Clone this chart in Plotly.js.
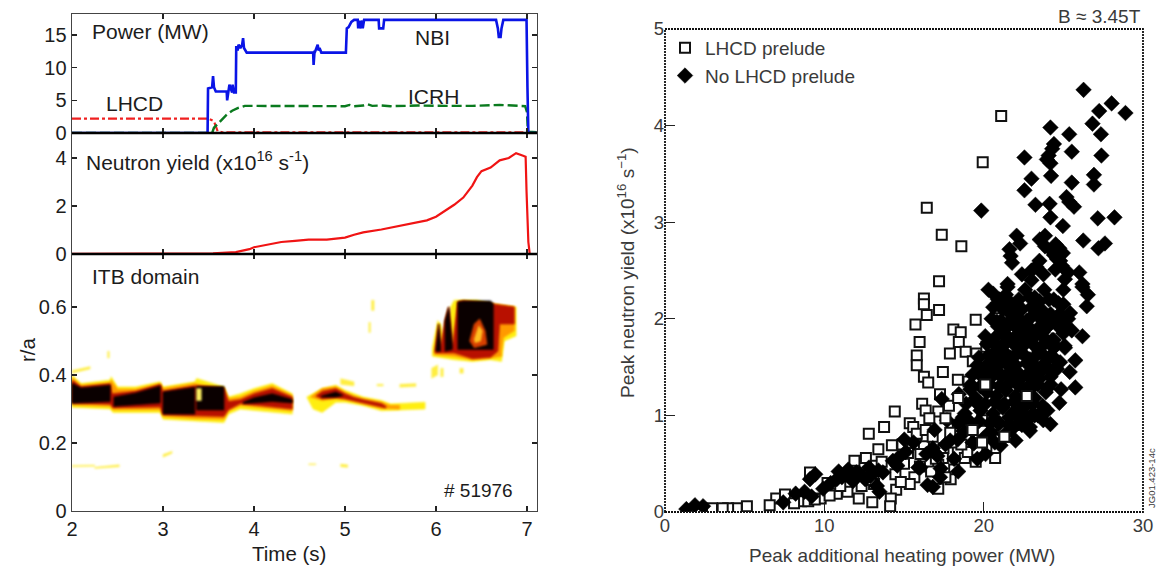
<!DOCTYPE html>
<html><head><meta charset="utf-8">
<script src="https://cdn.plot.ly/plotly-3.0.1.min.js"></script>
<style>html,body{margin:0;padding:0;background:#fff}</style></head><body><div id="c" style="width:1159px;height:569px"></div>
<script>
const nbiT=[2,3.49,3.495,3.54,3.55,3.56,3.58,3.7,3.705,3.72,3.73,3.76,3.765,3.78,3.79,3.8,3.805,3.82,3.83,3.85,3.87,3.88,3.89,3.92,4.65,4.655,4.665,4.67,4.7,4.71,4.72,4.74,5.01,5.02,5.04,5.07,5.1,5.14,5.145,5.16,5.165,5.19,5.195,5.21,5.37,5.375,5.42,5.43,6.66,6.68,6.69,6.71,6.72,6.74,6.995,7,7.005,7.015,7.11];
const nbiP=[0,0,6.8,7,8.7,7,6.35,6.35,5,6.2,7.4,6.2,7.4,6.2,6.2,6.2,13.3,12.6,13.5,13,13.5,14.5,13,12.3,12.3,10.4,12.4,12.4,13.5,12.6,13,12.3,12.3,16,16.2,17,17.3,17.3,16,17.2,16,17.2,16,17.3,17.3,16,16,17.3,17.3,16,14.7,14.7,16,17.3,17.3,14.5,7,0,0];
const icrhT=[2,3.54,3.56,3.62,3.7,3.76,3.82,3.9,4.2,4.5,4.8,5.0,5.05,5.1,5.2,5.25,5.3,5.4,5.5,5.8,6.1,6.4,6.7,6.98,7.0,7.01,7.11];
const icrhP=[0,0,0.8,1.7,2.8,3.4,3.8,4.15,4.15,4.1,4.1,4.1,4.3,4.1,4.2,4.4,4.15,4.2,4.1,4.2,4.15,4.15,4.3,4.1,3.2,0.2,0.1];
const lhcdT=[2,2.8,2.95,3,3.5,3.56,3.6,3.65,7.11];
const lhcdP=[2.2,2.2,2.3,2.2,2.2,1.8,0.3,0.1,0.1];
const neutT=[2,3.4,3.55,3.8,3.95,4.0,4.1,4.3,4.45,4.6,4.8,5.0,5.1,5.2,5.4,5.6,5.8,5.9,6.0,6.1,6.2,6.3,6.4,6.45,6.5,6.6,6.7,6.8,6.88,6.95,6.985,6.995,7.015,7.03,7.11];
const neutY=[0.01,0.01,0.03,0.08,0.2,0.28,0.36,0.5,0.55,0.6,0.6,0.68,0.8,0.9,1.02,1.17,1.3,1.4,1.55,1.8,2.05,2.35,2.85,3.2,3.45,3.6,3.9,4.0,4.2,4.1,4.05,2.6,0.5,0,0];

const itbYellowT=[2,2.1,2.42,2.43,2.5,2.7,2.97,3,3.35,3.37,3.67,3.72,3.85,4,4.2,4.42,4.42,3.85,3.72,3.67,3.35,3,2.97,2.45,2.42,2,2,null,
 4.58,4.65,4.75,4.9,5,5.2,5.4,5.5,5.88,5.88,5.5,5.4,5.2,5,4.9,4.75,4.65,4.58,4.58,null,
 5.96,6.02,6.05,6.12,6.16,6.2,6.45,6.6,6.88,6.88,6.75,6.72,6.6,6.4,6.2,5.96,5.96];
const itbYellowR=[0.4,0.375,0.385,0.395,0.365,0.365,0.38,0.365,0.38,0.39,0.365,0.335,0.345,0.36,0.375,0.345,0.285,0.3,0.285,0.26,0.265,0.27,0.29,0.29,0.3,0.305,0.4,null,
 0.335,0.345,0.36,0.37,0.355,0.335,0.325,0.315,0.32,0.3,0.295,0.295,0.31,0.32,0.32,0.29,0.3,0.335,0.335,null,
 0.48,0.56,0.55,0.48,0.6,0.62,0.62,0.61,0.6,0.515,0.5,0.44,0.445,0.44,0.445,0.455,0.48];
const itbOrangeT=[2,2.1,2.42,2.43,2.5,2.7,2.97,3,3.35,3.67,3.72,3.85,4,4.2,4.42,4.42,3.85,3.72,3.67,3.35,3,2.97,2.45,2.42,2,2,null,
 4.62,4.75,4.9,5,5.1,5.2,5.4,5.5,5.6,5.6,5.4,5.2,5,4.9,4.75,4.62,4.62,null,
 5.98,6.03,6.05,6.1,6.14,6.18,6.24,6.3,6.6,6.86,6.86,6.74,6.72,6.72,6.6,6.4,6.2,5.98,5.98];
const itbOrangeR=[0.392,0.37,0.378,0.385,0.358,0.358,0.375,0.36,0.375,0.36,0.33,0.335,0.352,0.368,0.34,0.295,0.31,0.295,0.27,0.272,0.278,0.298,0.298,0.308,0.312,0.392,null,
 0.335,0.36,0.365,0.35,0.338,0.33,0.32,0.31,0.31,0.3,0.302,0.316,0.328,0.33,0.325,0.335,0.335,null,
 0.47,0.55,0.48,0.56,0.6,0.48,0.615,0.618,0.61,0.6,0.53,0.51,0.47,0.455,0.45,0.445,0.455,0.46,0.47];
const itbRedT=[2,2.1,2.42,2.44,2.7,2.97,3,3.35,3.67,3.72,3.85,4,4.2,4.42,4.42,3.85,3.72,3.67,3.35,3,2.97,2.45,2.42,2,2,null,
 4.68,4.75,4.9,5,5.1,5.2,5.4,5.45,5.45,5.4,5.2,5,4.9,4.75,4.68,4.68,null,
 5.99,6.03,6.05,6.1,6.14,6.18,6.24,6.3,6.6,6.86,6.86,6.7,6.68,6.6,6.4,6.2,5.99,5.99];
const itbRedR=[0.385,0.365,0.374,0.345,0.352,0.372,0.352,0.368,0.362,0.322,0.327,0.345,0.36,0.335,0.3,0.316,0.298,0.278,0.28,0.284,0.306,0.304,0.314,0.318,0.385,null,
 0.338,0.352,0.36,0.345,0.334,0.327,0.316,0.308,0.303,0.306,0.32,0.33,0.334,0.33,0.338,0.338,null,
 0.47,0.55,0.48,0.56,0.6,0.48,0.615,0.618,0.61,0.6,0.55,0.55,0.47,0.452,0.448,0.465,0.465,0.47];
const itbBlackT=[2,2.1,2.42,2.42,2,2,null,2.46,2.7,2.97,2.97,2.46,2.46,null,3,3.35,3.35,3,3,null,3.37,3.67,3.67,3.37,3.37,null,
 3.88,4,4.2,4.42,4.42,4.2,4,3.88,3.88,null,4.74,4.9,4.98,4.9,4.74,4.74,null,
 6.0,6.03,6.05,6.05,6.0,6.0,null,6.1,6.14,6.18,6.18,6.1,6.1,null,6.24,6.3,6.6,6.63,6.63,6.24,6.24];
const itbBlackR=[0.376,0.362,0.37,0.322,0.317,0.376,null,0.335,0.347,0.368,0.318,0.308,0.335,null,0.35,0.364,0.285,0.285,0.35,null,0.366,0.366,0.297,0.297,0.366,null,
 0.32,0.333,0.345,0.328,0.318,0.322,0.318,0.316,0.32,null,0.338,0.35,0.34,0.335,0.335,0.338,null,
 0.475,0.55,0.49,0.47,0.47,0.475,null,0.56,0.6,0.49,0.475,0.47,0.56,null,0.615,0.618,0.618,0.61,0.475,0.475,0.615];
const itbHoleT=[6.37,6.42,6.48,6.54,6.56,6.5,6.42,6.37];
const itbHoleR=[0.5,0.55,0.565,0.53,0.49,0.485,0.48,0.5];
const itbHoleInnerT=[6.42,6.47,6.51,6.49,6.43,6.42];
const itbHoleInnerR=[0.505,0.545,0.53,0.5,0.495,0.505];
const itbSpotT=[3.37,3.42,3.42,3.37,3.37];
const itbSpotR=[0.325,0.325,0.36,0.36,0.325];
const itbSpeckT=[2,2.25,2.25,2,2,null,2.25,2.52,2.52,2.25,2.25,null,3,3.1,3.1,3,3,null,2.39,2.41,2.41,2.39,null,
 5.26,5.28,5.28,5.26,null,5.29,5.32,5.32,5.29,null,5.95,6.02,6.02,5.95,null,6.05,6.08,6.08,6.05,null,6.26,6.3,6.3,6.26,null,
 5.35,5.42,5.42,5.35,null,5.6,5.78,5.78,5.6,null,4.95,5.1,5.1,4.95,null,2,2.2,2.2,2,null,4.6,4.68,4.68,4.6,null,4.95,5.03,5.03,4.95];
const itbSpeckR=[0.13,0.132,0.135,0.134,0.13,null,0.125,0.13,0.136,0.129,0.125,null,0.158,0.17,0.176,0.166,0.158,null,0.45,0.45,0.47,0.47,null,
 0.525,0.525,0.555,0.555,null,0.59,0.59,0.62,0.62,null,0.39,0.4,0.43,0.42,null,0.395,0.395,0.42,0.42,null,0.405,0.405,0.42,0.42,null,
 0.368,0.368,0.373,0.373,null,0.364,0.366,0.375,0.373,null,0.372,0.368,0.38,0.39,null,0.405,0.418,0.425,0.413,null,0.136,0.136,0.139,0.139,null,0.13,0.128,0.136,0.138];

const lhcdPower=[21.1,19.94,16.43,17.37,18.6,17.2,16.25,16.25,17.2,16.43,15.72,19.5,20.77,18.1,18.56,18.44,15.98,15.8,15.8,17.88,18.87,19.54,19.32,20.17,17.44,16.25,16.52,18.38,19.05,17.26,16.14,17.82,16.36,17.15,14.42,13.75,12.79,15.36,15.58,16.59,15.8,16.36,18.38,19.38,19.94,21.28,13.39,14.24,15.76,16.25,17.48,18.38,20.17,20.72,19.5,18.82,17.44,16.03,15.25,12.61,11.89,13.24,14.46,18.15,17.15,15.65,15.36,17.93,17.15,14.51,13.12,12.34,12.16,13.01,14.17,14.13,10.78,9.77,9.1,8.54,6.98,6.57,7.53,5.14,4.5,3.96,3.62,2.95,11.45,10.33,8.99,12.34,16.8,17.9,18.9,15,14.9,16.7,19,18.2,17.6,19.6,20.4,11,9.4,8.1,10.2,12.9,13.6,14.8,16,17,18.6,19.9,20.6];
const lhcdYield=[4.1,3.62,3.15,2.87,2.75,2.39,2.21,2.15,2.09,2.04,1.94,1.99,2.11,1.89,1.86,1.76,1.76,1.62,1.52,1.64,1.66,1.64,1.56,1.71,1.45,1.4,1.34,1.37,1.35,1.22,1.12,1.1,1.05,1.04,1.04,0.88,0.81,0.92,0.88,0.97,0.81,0.85,0.89,0.87,0.84,0.78,0.65,0.69,0.7,0.68,0.66,0.63,0.68,0.56,0.52,0.56,0.56,0.6,0.61,0.56,0.53,0.48,0.39,0.44,0.49,0.36,0.29,0.34,0.24,0.23,0.29,0.27,0.14,0.1,0.14,0.06,0.19,0.14,0.41,0.11,0.14,0.07,0.18,0.06,0.04,0.04,0.04,0.04,0.21,0.17,0.11,0.38,0.78,0.82,0.76,0.5,0.7,0.42,0.62,0.72,0.36,0.64,0.78,0.27,0.13,0.09,0.3,0.33,0.52,0.31,0.47,0.55,0.7,0.95,0.9];
const noLhcdPower=[26.27,28.03,28.9,27.25,26.83,27.36,24.19,25.37,24.41,24.3,24.08,25.53,27.39,22.56,23.97,24.19,23,24.23,26.92,26.92,25.53,22.56,23.25,24.14,25.2,25.37,25.67,19.85,24.19,27.16,28.21,24.97,22.07,22.29,26.25,27.61,27.2,23.85,23.52,23.85,24.52,24.75,24.97,24.41,21.62,21.69,21.78,22.4,23.3,23.75,24.5,25.1,26,26.2,21.5,25.3,24.6,23,23.5,24.9,
 1.34,1.88,2.39,7.42,8.2,8.76,9.2,9.43,9.1,9.93,10.78,11.45,12,12.56,13.46,13.68,14.58,15.02,14.64,16.03,16.48,16.81,17.26,16.81,16.92,17.7,18.15,17.37,18.44,18.38,19.38,20.12,21.06,21.73,24.19,23.74,22.4,24.75,25.75,24.86,24.19,24.52,25.75,26.47,26.54,26.2,25.42,26.2,25.53,24.86,25.08,20.6,21.5,20.83,21.28,20.72,20.05,19.16,18.82,10.4,11.1,11.8,12.9,13.3,14.3,15.1,17.1,17.9,18.8,
 20.3,20.9,21.4,22,22.6,23.2,23.8,24.4,25,22.1,22.7,23.4,24,24.6,21.3,21.9,22.5,23.1,23.7,24.3,25,20.5,21.1,21.7,22.3,22.9,23.5,24.1,24.8,19.9,20.5,21.1,21.7,22.3,22.9,23.5,24.2,19.5,20.2,20.8,21.4,22,22.6,23.2,23.9,19.8,20.6,21.2,21.8,22.5,23.1,22.2,22.8,23.4,24,21.6,22.4,23.1,20.9,20.2,22.9,21.2,22,23.6,24.4,25.4,22.6,23.9,21.5,22.3,23,
 20.6,21.2,21.8,22.4,23,23.6,24.2,24.8,25.3,20.9,21.5,22.1,22.8,23.4,24,24.7,20.2,20.8,21.4,22,22.6,23.2,23.8,24.5,25.1,19.6,20.2,20.8,21.4,22,22.7,23.3,24,24.6,19.2,19.8,20.4,21,21.6,22.2,22.8,23.4,24,18.9,19.5,20.1,20.7,21.3,21.9,22.5,23.1,23.7,18.4,19.1,19.7,20.4,21,21.6,22.2,22.9,19.3,20,20.7,21.3,22,10.9,11.5,12.2,12.8,13.4,15.6,16.4,17.3,18.4,19.6,20.5,16.9,15.9,17.6,18.7,
 21,21.6,22.2,22.9,23.5,24.1,24.7,20.5,21.1,21.8,22.4,23,23.7,24.4,25,20.1,20.7,21.3,21.9,22.5,23.1,23.8,24.4,19.7,20.3,20.9,21.5,22.1,22.7,23.3,23.9,24.5,19.3,19.9,20.5,21.1,21.7,22.3,22.9,23.5,22,22.6,23.2,24.3,24.8,25];
const noLhcdYield=[4.37,4.23,4.13,4.15,4.02,3.91,3.98,3.91,3.81,3.76,3.69,3.73,3.69,3.67,3.65,3.61,3.45,3.48,3.49,3.39,3.41,3.33,3.18,3.19,3.26,3.21,3.16,3.12,3.05,3.04,3.05,2.96,2.86,2.78,2.81,2.78,2.73,2.86,2.82,2.75,2.77,2.73,2.68,2.66,2.72,2.65,2.58,2.46,2.54,2.46,2.51,2.41,2.48,2.36,2.36,2.48,2.62,2.5,2.6,2.55,
 0.03,0.07,0.06,0.1,0.19,0.21,0.16,0.39,0.34,0.24,0.34,0.38,0.41,0.34,0.21,0.41,0.48,0.75,0.56,0.46,0.28,0.26,0.36,0.66,0.85,0.95,0.55,1.17,1.22,0.75,0.71,0.6,0.69,0.85,0.91,0.95,0.9,1.13,1.29,1.27,1.32,1.49,1.57,2.13,2.25,2.33,2.06,1.82,1.88,1.96,1.72,2.26,2.33,1.97,1.74,1.57,1.4,1.27,1.02,0.3,0.36,0.32,0.37,0.27,0.53,0.62,0.58,0.74,0.83,
 2.3,2.2,2.25,2.15,2.3,2.22,2.3,2.2,2.15,2.02,1.98,2.05,2,2.02,1.85,1.78,1.88,1.8,1.86,1.78,1.85,1.62,1.68,1.6,1.66,1.58,1.66,1.6,1.55,1.42,1.46,1.4,1.46,1.38,1.45,1.38,1.4,1.18,1.24,1.2,1.26,1.2,1.26,1.18,1.24,1.05,1.02,1.08,1.02,1.08,1.02,0.92,0.96,1.0,1.05,0.98,1.12,1.3,0.92,0.8,0.84,1.1,1.34,1.5,1.7,1.45,1.92,1.9,2.08,2.1,2.4,
 2.12,2.1,2.08,2.1,2.12,2.1,2.05,2.05,2,1.92,1.92,1.9,1.92,1.9,1.92,1.92,1.74,1.72,1.75,1.72,1.74,1.72,1.74,1.72,1.7,1.52,1.52,1.5,1.54,1.52,1.54,1.5,1.5,1.48,1.32,1.3,1.32,1.3,1.33,1.32,1.3,1.32,1.28,1.12,1.14,1.12,1.14,1.12,1.14,1.12,1.12,1.1,0.92,0.94,0.94,0.92,0.92,0.9,0.92,0.88,0.72,0.76,0.72,0.8,0.74,0.42,0.44,0.4,0.46,0.43,0.72,0.6,0.45,0.42,0.55,0.82,0.62,0.46,0.7,0.98,
 2.2,2.18,2.2,2.22,2.18,2.2,2.16,2.0,1.98,2.0,1.96,2.02,1.98,1.98,1.94,1.82,1.8,1.84,1.8,1.82,1.84,1.8,1.78,1.6,1.62,1.6,1.62,1.64,1.6,1.62,1.6,1.58,1.42,1.4,1.4,1.42,1.4,1.42,1.4,1.44,1.02,1.0,1.0,2.7,2.6,2.3];
const topLhcdPower=[21.3,20.1,19.3,18.4,17.6,22.7,19.9];
const topLhcdYield=[0.78,1.32,0.85,1.18,0.97,1.2,0.72];

const L=72/1159,R=537/1159;
function py(p){return 1-p/569;}
const txt='Liberation Sans, Arial, sans-serif';
const ink='#1c1c1c',gray='#3a3a3a';
function xa(show,anchor){return {domain:[L,R],range:[2,7.11],anchor:anchor,tickvals:[2,3,4,5,6,7],ticks:'inside',ticklen:5,tickcolor:'#222',tickwidth:1.3,showticklabels:show,showgrid:false,zeroline:false,showline:true,linecolor:'#444',linewidth:1.4,mirror:'ticks',tickfont:{family:txt,size:20,color:ink}};}
function ya(dom,range,vals,anchor){return {domain:dom,range:range,anchor:anchor,tickvals:vals,ticks:'inside',ticklen:5,tickcolor:'#222',tickwidth:1.3,showgrid:false,zeroline:false,showline:true,linecolor:'#444',linewidth:1.4,mirror:'ticks',tickfont:{family:txt,size:20,color:ink}};}
function poly(t,r,color,w){return {x:t,y:r,xaxis:'x3',yaxis:'y3',type:'scatter',mode:'lines',fill:'toself',fillcolor:color,line:{width:w===undefined?0.6:w,color:color},hoverinfo:'skip',showlegend:false};}
const sqMarker={symbol:'square',size:10,color:'#fff',line:{color:'#111',width:2}};
const diMarker={symbol:'diamond',size:12,color:'#000',line:{color:'#000',width:0.5}};
const data=[
 {x:lhcdT,y:lhcdP,type:'scatter',mode:'lines',line:{color:'#f02020',width:2.2,dash:'dashdot'},showlegend:false},
 {x:icrhT,y:icrhP,type:'scatter',mode:'lines',line:{color:'#0a7a1e',width:2.4,dash:'10px,4px'},showlegend:false},
 {x:nbiT,y:nbiP,type:'scatter',mode:'lines',line:{color:'#0a14e6',width:2.6},showlegend:false},
 {x:neutT,y:neutY,xaxis:'x2',yaxis:'y2',type:'scatter',mode:'lines',line:{color:'#f01414',width:2.2},showlegend:false},
 poly(itbSpeckT,itbSpeckR,'#ffee40',0.3),
 poly(itbYellowT,itbYellowR,'#ffee10'),
 poly(itbOrangeT,itbOrangeR,'#ff9a00'),
 poly(itbRedT,itbRedR,'#b81000'),
 poly(itbBlackT,itbBlackR,'#0a0000'),
 poly(itbHoleT,itbHoleR,'#d84000'),
 poly(itbHoleInnerT,itbHoleInnerR,'#ffc020'),
 poly(itbSpotT,itbSpotR,'#fff060'),
 {x:lhcdPower,y:lhcdYield,xaxis:'x4',yaxis:'y4',type:'scatter',mode:'markers',marker:sqMarker,name:'LHCD prelude',showlegend:true},
 {x:noLhcdPower,y:noLhcdYield,xaxis:'x4',yaxis:'y4',type:'scatter',mode:'markers',marker:diMarker,name:'No LHCD prelude',showlegend:true},
 {x:topLhcdPower,y:topLhcdYield,xaxis:'x4',yaxis:'y4',type:'scatter',mode:'markers',marker:sqMarker,showlegend:false}
];
function note(text,x,y,size,anchor,color,extra){return Object.assign({text:text,xref:'paper',yref:'paper',x:x/1159,y:py(y),showarrow:false,xanchor:anchor||'left',yanchor:'middle',font:{family:txt,size:size,color:color||ink}},extra||{});}
function zeroLine(p){return {type:'line',xref:'paper',yref:'paper',x0:L,x1:R,y0:py(p),y1:py(p),line:{color:'#000',width:2.6},layer:'above'};}
const layout={width:1159,height:569,autosize:false,margin:{l:0,r:0,t:0,b:0},paper_bgcolor:'#fff',plot_bgcolor:'#fff',
 xaxis:xa(false,'y'),yaxis:ya([py(133),py(14)],[0,18.2],[0,5,10,15],'x'),
 xaxis2:xa(false,'y2'),yaxis2:ya([py(254),py(133)],[0,5.04],[0,2,4],'x2'),
 xaxis3:xa(true,'y3'),
 yaxis3:ya([py(511),py(254)],[0,0.756],[0,0.2,0.4,0.6],'x3'),
 xaxis4:{domain:[665/1159,1143/1159],range:[0,30],anchor:'y4',tickvals:[0,10,20,30],ticks:'inside',ticklen:10,tickcolor:'#222',tickwidth:1.2,showgrid:false,zeroline:false,showline:false,tickfont:{family:txt,size:18.5,color:gray}},
 yaxis4:{domain:[py(512),py(29)],range:[0,5],anchor:'x4',tickvals:[0,1,2,3,4,5],ticks:'inside',ticklen:10,tickcolor:'#222',tickwidth:1.2,showgrid:false,zeroline:false,showline:false,tickfont:{family:txt,size:18.5,color:gray}},
 legend:{x:665/1159,y:py(29),xanchor:'left',yanchor:'top',bgcolor:'rgba(0,0,0,0)',borderwidth:0,font:{family:txt,size:19,color:gray},itemwidth:30,tracegroupgap:0},
 shapes:[{type:'rect',xref:'paper',yref:'paper',x0:665/1159,x1:1143/1159,y0:py(512),y1:py(29),line:{color:'#111',width:1.8,dash:'2px,1px'},layer:'above'},zeroLine(133),zeroLine(254)],
 annotations:[
  note('Power (MW)',90,31,21),note('NBI',413,38,21),note('ICRH',406,96,21),note('LHCD',104,103,21),
  note('Neutron yield (x10<sup>16</sup> s<sup>-1</sup>)',84,161,21),note('ITB domain',90,276,21),note('# 51976',442,490,19),
  note('Time (s)',289,553,20.5,'center'),note('r/a',27,350,20.5,'center',ink,{textangle:-90}),
  note('Peak additional heating power (MW)',902,555,19,'center',gray),
  note('Peak neutron yield (x10<sup>16</sup> s<sup>−1</sup>)',626,273,19,'center',gray,{textangle:-90}),
  note('B ≈ 3.45T',1143,16,19,'right',gray),
  note('JG01.423-14c',1151,478,9.5,'center',gray,{textangle:-90})
 ]};
Plotly.newPlot('c',data,layout,{displayModeBar:false,staticPlot:true}).then(function(){
  document.querySelectorAll('.subplot.x3y3 .scatterlayer .trace').forEach(function(g){g.style.filter='blur(1.1px)';});
});
</script></body></html>
